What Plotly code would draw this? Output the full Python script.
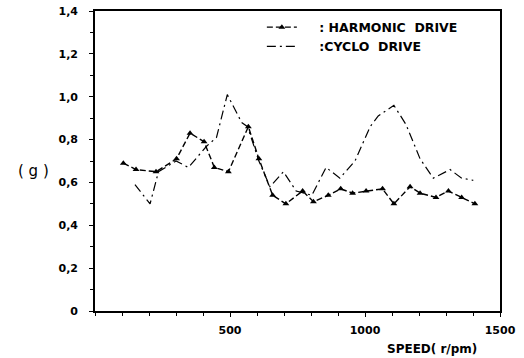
import plotly.graph_objects as go

harmonic_speed = [105, 152, 226, 302, 352, 404, 442, 494, 568, 607, 658, 707, 769, 809, 864, 910, 954, 1004, 1065, 1107, 1167, 1204, 1263, 1309, 1358, 1407]
harmonic_g = [0.69, 0.66, 0.65, 0.71, 0.83, 0.79, 0.67, 0.65, 0.86, 0.71, 0.54, 0.50, 0.56, 0.51, 0.54, 0.57, 0.55, 0.56, 0.57, 0.50, 0.58, 0.55, 0.53, 0.56, 0.53, 0.50]

cyclo_speed = [148, 204, 235, 300, 346, 414, 450, 490, 543, 565, 607, 648, 698, 745, 803, 856, 907, 963, 1019, 1049, 1107, 1152, 1204, 1253, 1315, 1358, 1401]
cyclo_g = [0.59, 0.50, 0.65, 0.70, 0.67, 0.77, 0.81, 1.01, 0.88, 0.86, 0.70, 0.58, 0.65, 0.56, 0.54, 0.67, 0.62, 0.70, 0.86, 0.91, 0.96, 0.87, 0.71, 0.62, 0.66, 0.62, 0.61]

y_ticks = [0, 0.2, 0.4, 0.6, 0.8, 1.0, 1.2, 1.4]
y_labels = ["0", "0,2", "0,4", "0,6", "0,8", "1,0", "1,2", "1,4"]
x_ticks = [500, 1000, 1500]
x_labels = ["500", "1000", "1500"]

FONT = "DejaVu Sans"
NB = "\u00a0"

fig = go.Figure()
fig.add_trace(go.Scatter(
    x=harmonic_speed, y=harmonic_g, mode="lines+markers",
    name=NB * 4 + ": HARMONIC" + NB * 2 + "DRIVE",
    line=dict(color="black", width=1.4, dash="6px,3px"),
    marker=dict(symbol="triangle-up", size=6, color="black"),
))
fig.add_trace(go.Scatter(
    x=cyclo_speed, y=cyclo_g, mode="lines",
    name=NB * 4 + ":CYCLO" + NB * 2 + "DRIVE",
    line=dict(color="black", width=1.2, dash="9px,4px,2px,4px"),
))

fig.update_layout(
    width=524, height=358,
    margin=dict(l=95, r=24, t=11, b=47, autoexpand=False),
    paper_bgcolor="white", plot_bgcolor="white",
    font=dict(family=FONT, color="black", size=11),
    showlegend=True,
    legend=dict(x=0.412, y=0.995, xanchor="left", yanchor="top",
                bgcolor="rgba(0,0,0,0)", font=dict(size=12.5, family=FONT, weight="bold"),
                tracegroupgap=0, itemwidth=30),
    xaxis=dict(range=[0, 1500], tickmode="array", tickvals=x_ticks, ticktext=x_labels,
               ticks="outside", ticklen=4, tickcolor="black", showgrid=False, zeroline=False,
               showline=True, linecolor="black", linewidth=1.6, mirror=True, automargin=False,
               ticklabelstandoff=4,
               minor=dict(dtick=100, tick0=0, ticks="outside", ticklen=3, tickcolor="black", showgrid=False),
               tickfont=dict(size=11, family=FONT, weight="bold")),
    yaxis=dict(range=[0, 1.4], tickmode="array", tickvals=y_ticks, ticktext=y_labels,
               ticks="outside", ticklen=4, tickcolor="black", showgrid=False, zeroline=False,
               showline=True, linecolor="black", linewidth=1.6, mirror=True, automargin=False,
               ticklabelstandoff=9,
               minor=dict(dtick=0.1, tick0=0, ticks="outside", ticklen=3, tickcolor="black", showgrid=False),
               tickfont=dict(size=11, family=FONT, weight="bold")),
    annotations=[
        dict(text="( g )", xref="paper", yref="paper", x=-0.153, y=0.465, showarrow=False,
             font=dict(size=15, family=FONT), xanchor="center", yanchor="middle"),
        dict(text="SPEED( r/pm)", xref="paper", yref="paper", x=0.832, y=-0.095, showarrow=False,
             font=dict(size=12, family=FONT, weight="bold"), xanchor="center", yanchor="top"),
    ],
)

fig.write_html("out.html", config={"displayModeBar": False},
               post_script="document.body.style.margin='0';document.body.style.overflow='hidden';")
